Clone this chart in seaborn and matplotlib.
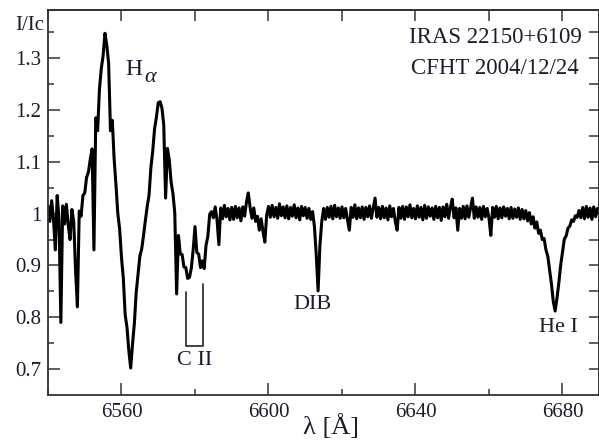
import numpy as np
import pandas as pd
import matplotlib
matplotlib.use("Agg")
import matplotlib.pyplot as plt
import seaborn as sns

# ---------------- data ----------------
wave_start = 6540.0
wave_step = 0.5
flux = [
    # 6540.0 - 6544.5
    1.015, 0.985, 1.025, 0.988, 0.930, 1.035, 0.990, 0.790, 1.015, 0.980,
    # 6545.0 - 6549.5
    1.018, 0.978, 0.950, 1.008, 0.985, 0.890, 0.820, 1.005, 0.995, 1.035,
    # 6550.0 - 6554.5
    1.040, 1.070, 1.080, 1.105, 1.125, 0.930, 1.185, 1.160, 1.240, 1.280,
    # 6555.0 - 6559.5
    1.305, 1.348, 1.325, 1.290, 1.160, 1.180, 1.105, 1.055, 1.000, 0.970,
    # 6560.0 - 6564.5
    0.915, 0.875, 0.805, 0.780, 0.735, 0.702, 0.748, 0.788, 0.848, 0.882,
    # 6565.0 - 6569.5
    0.918, 0.932, 0.958, 0.987, 1.014, 1.036, 1.089, 1.121, 1.164, 1.186,
    # 6570.0 - 6574.5
    1.214, 1.216, 1.204, 1.171, 1.030, 1.126, 1.104, 1.061, 1.039, 1.001,
    # 6575.0 - 6579.5
    0.845, 0.958, 0.922, 0.921, 0.897, 0.896, 0.875, 0.877, 0.895, 0.930,
    # 6580.0 - 6584.5
    0.975, 0.925, 0.922, 0.896, 0.909, 0.894, 0.939, 0.956, 0.999, 1.004,
    # 6585.0 - 6589.5
    0.992, 1.013, 0.988, 0.940, 1.011, 0.990, 1.016, 0.994, 1.010, 0.988,
    # 6590.0 - 6594.5
    1.012, 0.989, 1.014, 0.992, 1.011, 0.986, 1.013, 0.995, 1.022, 1.040,
    # 6595.0 - 6599.5
    1.012, 0.991, 1.011, 0.985, 0.995, 0.968, 0.990, 0.966, 0.945, 0.997,
    # 6600.0 - 6604.5
    1.014, 0.993, 1.016, 0.994, 1.012, 0.991, 1.019, 0.996, 1.013, 0.992,
    # 6605.0 - 6609.5
    1.015, 0.990, 1.012, 0.995, 1.017, 0.992, 1.011, 0.988, 1.014, 0.996,
    # 6610.0 - 6614.5
    1.012, 0.991, 1.010, 0.989, 1.004, 0.975, 0.920, 0.851, 0.940, 0.985,
    # 6615.0 - 6619.5
    1.010, 0.989, 1.012, 0.993, 1.014, 0.990, 1.016, 0.994, 1.011, 0.991,
    # 6620.0 - 6624.5
    1.013, 0.992, 1.010, 0.988, 0.968, 1.012, 0.993, 1.017, 0.990, 1.011,
    # 6625.0 - 6629.5
    0.992, 1.013, 0.989, 1.012, 0.994, 1.015, 0.991, 1.011, 1.030, 0.993,
    # 6630.0 - 6634.5
    1.012, 0.990, 1.014, 0.992, 1.011, 0.988, 1.015, 0.994, 1.010, 0.985,
    # 6635.0 - 6639.5
    0.968, 1.012, 0.991, 1.014, 0.989, 1.013, 0.994, 1.017, 0.992, 1.010,
    # 6640.0 - 6644.5
    0.990, 1.015, 0.993, 1.012, 0.988, 1.016, 0.991, 1.013, 0.995, 1.011,
    # 6645.0 - 6649.5
    0.989, 1.014, 0.992, 1.012, 0.987, 1.013, 0.994, 1.018, 0.991, 1.012,
    # 6650.0 - 6654.5
    1.028, 0.992, 1.011, 0.968, 1.010, 0.991, 1.014, 0.990, 1.015, 0.993,
    # 6655.0 - 6659.5
    1.012, 1.030, 0.991, 1.013, 0.993, 1.012, 0.989, 1.014, 0.994, 1.010,
    # 6660.0 - 6664.5
    0.991, 0.958, 1.012, 0.993, 1.014, 0.990, 1.011, 0.992, 1.013, 0.995,
    # 6665.0 - 6669.5
    1.010, 0.990, 1.012, 0.991, 1.009, 0.993, 1.011, 0.989, 1.008, 0.990,
    # 6670.0 - 6674.5
    1.006, 0.986, 1.002, 0.980, 0.994, 0.972, 0.984, 0.962, 0.968, 0.950,
    # 6675.0 - 6679.5
    0.952, 0.930, 0.918, 0.891, 0.864, 0.830, 0.812, 0.837, 0.866, 0.900,
    # 6680.0 - 6684.5
    0.925, 0.951, 0.957, 0.972, 0.976, 0.988, 0.985, 0.996, 0.993, 1.006,
    # 6685.0 - 6689.5
    0.992, 1.012, 0.990, 1.014, 0.993, 1.011, 0.989, 1.013, 0.994, 1.010,
    # 6690.0
    1.000,
]
wave = wave_start + wave_step * np.arange(len(flux))

xtick_major = [6560, 6600, 6640, 6680]
xtick_minor = [6540, 6580, 6620, 6660]
xtick_labels = ["6560", "6600", "6640", "6680"]
ytick_major = [0.7, 0.8, 0.9, 1.0, 1.1, 1.2, 1.3]
ytick_minor = [0.75, 0.85, 0.95, 1.05, 1.15, 1.25, 1.35]
ytick_labels = ["0.7", "0.8", "0.9", "1", "1.1", "1.2", "1.3"]

cii_lines = [6577.5, 6582.3]
cii_tops = [0.849, 0.865]
cii_bottom = 0.745

# ---------------- style ----------------
sns.set_style("ticks")
plt.rcParams["font.family"] = ["Liberation Serif", "DejaVu Serif"]
plt.rcParams["mathtext.fontset"] = "stix"

TXT = "#1c1c2c"
SPINE = "#333333"

fig = plt.figure(figsize=(5.99, 4.43), dpi=100)
W, H = 599.0, 443.0
ax = fig.add_axes([48 / W, 48 / H, (598.5 - 48) / W, (395 - 10) / H])

df = pd.DataFrame({"wave": wave, "flux": flux})
sns.lineplot(data=df, x="wave", y="flux", ax=ax, color="black", lw=2.2,
             estimator=None, errorbar=None, sort=False)

ax.set_xlim(6540, 6689.8)
ax.set_ylim(0.65, 1.393)
ax.set_xlabel("")
ax.set_ylabel("")

ax.set_xticks(xtick_major)
ax.set_xticklabels(xtick_labels)
ax.set_xticks(xtick_minor, minor=True)
ax.set_yticks(ytick_major)
ax.set_yticklabels(ytick_labels)
ax.set_yticks(ytick_minor, minor=True)

ax.tick_params(which="major", direction="in", length=8.6, width=1.1,
               color=SPINE, labelsize=15, labelcolor=TXT, pad=5)
ax.tick_params(which="minor", direction="in", length=4.3, width=1.1, color=SPINE)
ax.tick_params(axis="x", which="major", pad=6)

for s in ax.spines.values():
    s.set_color(SPINE)
    s.set_linewidth(1.3)
    s.set_visible(True)

# top and right ticks (all same length)
secx = ax.secondary_xaxis("top")
secx.set_xticks(sorted(xtick_major + xtick_minor))
secx.set_xticklabels([])
secx.tick_params(direction="in", length=8.0, width=1.1, color=SPINE)
secx.spines["top"].set_color(SPINE)
secx.spines["top"].set_linewidth(1.3)

secy = ax.secondary_yaxis("right")
secy.set_yticks(sorted(ytick_major + ytick_minor))
secy.set_yticklabels([])
secy.tick_params(direction="in", length=7.0, width=1.1, color=SPINE)
secy.spines["right"].set_color(SPINE)
secy.spines["right"].set_linewidth(1.3)

# C II bracket
ax.plot([cii_lines[0], cii_lines[0], cii_lines[1], cii_lines[1]],
        [cii_tops[0], cii_bottom, cii_bottom, cii_tops[1]],
        color="#222222", lw=1.2)

# annotations
ax.text(6563.4, 1.278, "H", fontsize=17, color=TXT, ha="center", va="center")
ax.text(6567.9, 1.262, "α", fontsize=16, color=TXT, ha="center", va="center",
        fontstyle="italic")
ax.text(6661.7, 1.340, "IRAS 22150+6109", fontsize=16.5, color=TXT,
        ha="center", va="center")
ax.text(6661.5, 1.280, "CFHT 2004/12/24", fontsize=16.5, color=TXT,
        ha="center", va="center")
ax.text(6611.9, 0.825, "DIB", fontsize=16, color=TXT, ha="center", va="center")
ax.text(6580.0, 0.716, "C II", fontsize=16, color=TXT, ha="center", va="center")
ax.text(6678.9, 0.781, "He I", fontsize=16, color=TXT, ha="center", va="center")

fig.text(30 / W, 1 - 25 / H, "I/Ic", fontsize=15, color=TXT,
         ha="center", va="center")
fig.text(331 / W, 1 - 427 / H, "λ [Å]", fontsize=19, color=TXT,
         ha="center", va="center")

fig.savefig("out.png", dpi=100)
